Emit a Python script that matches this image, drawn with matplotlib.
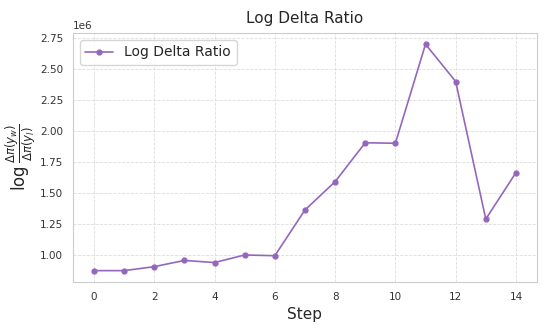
import matplotlib
matplotlib.use('Agg')
import matplotlib.pyplot as plt
import seaborn as sns

# Datos
steps = [0, 1, 2, 3, 4, 5, 6, 7, 8, 9, 10, 11, 12, 13, 14]
log_delta_ratio = [0.878e6, 0.878e6, 0.910e6, 0.960e6, 0.943e6, 1.004e6, 0.998e6,
                   1.366e6, 1.594e6, 1.907e6, 1.903e6, 2.700e6, 2.400e6, 1.293e6, 1.667e6]

sns.set_style('whitegrid')
plt.rcParams['font.family'] = ['DejaVu Sans']

fig, ax = plt.subplots(figsize=(5.48, 3.29), dpi=100)

ax.plot(steps, log_delta_ratio, marker='o', markersize=3.5, linewidth=1.2,
        color='#9467bd', label='Log Delta Ratio')

ax.grid(True, linestyle='--', linewidth=0.6, color='#dddddd')
for s in ax.spines.values():
    s.set_color('#cccccc')
ax.tick_params(labelsize=7.5, colors='#333333')
ax.set_xticks(range(0, 15, 2))
ax.set_xlabel('Step', fontsize=11)
ax.set_ylabel(r'$\log\frac{\Delta\pi(y_w)}{\Delta\pi(y_l)}$', fontsize=12, labelpad=1)
ax.set_title('Log Delta Ratio', fontsize=11, pad=7)
ax.yaxis.get_offset_text().set_fontsize(7.5)
ax.legend(loc='upper left', fontsize=10)

plt.subplots_adjust(left=0.133, right=0.98, top=0.9, bottom=0.143)
plt.savefig('out.png', dpi=100)
